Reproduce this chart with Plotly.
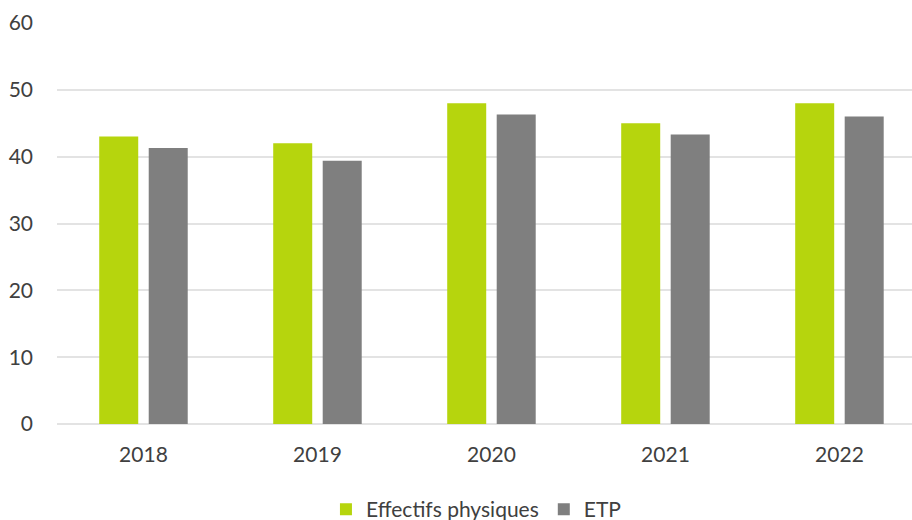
import plotly.graph_objects as go

years = ["2018", "2019", "2020", "2021", "2022"]
effectifs = [43, 42, 48, 45, 48]
etp = [41.3, 39.4, 46.3, 43.3, 46.0]
y_ticks = [0, 10, 20, 30, 40, 50, 60]

font_family = "Lato, 'Noto Sans', sans-serif"
text_color = "#404040"

fig = go.Figure()
fig.add_trace(go.Bar(x=years, y=effectifs, name="Effectifs physiques",
                     marker=dict(color="#B6D50D", line=dict(width=0))))
fig.add_trace(go.Bar(x=years, y=etp, name="ETP",
                     marker=dict(color="#7F7F7F", line=dict(width=0))))

fig.update_layout(
    width=912, height=520,
    margin=dict(l=57, r=0, t=23, b=96, autoexpand=False),
    paper_bgcolor="white", plot_bgcolor="white",
    barmode="group", bargap=0.431, bargroupgap=0.212,
    font=dict(family=font_family, size=21, color=text_color),
    showlegend=True,
    legend=dict(orientation="h", x=0.49, xanchor="center",
                yref="container", y=0.02, yanchor="middle",
                font=dict(size=21, color=text_color), itemwidth=30, traceorder="normal"),
)
fig.update_xaxes(type="category", range=[-0.497, 4.417], showgrid=False, showline=False,
                 ticks="", ticklabelstandoff=16, automargin=False,
                 tickfont=dict(size=21, color=text_color))
fig.update_yaxes(range=[0, 60], tickvals=y_ticks, showgrid=True, gridcolor="#E3E3E3", gridwidth=1.5,
                 zeroline=True, zerolinecolor="#E3E3E3", zerolinewidth=1.5, automargin=False,
                 showline=False, ticks="", ticklabelstandoff=23,
                 tickfont=dict(size=21, color=text_color))

fig.write_html("out.html", post_script="document.body.style.margin='0';",
               config={"displayModeBar": False})
